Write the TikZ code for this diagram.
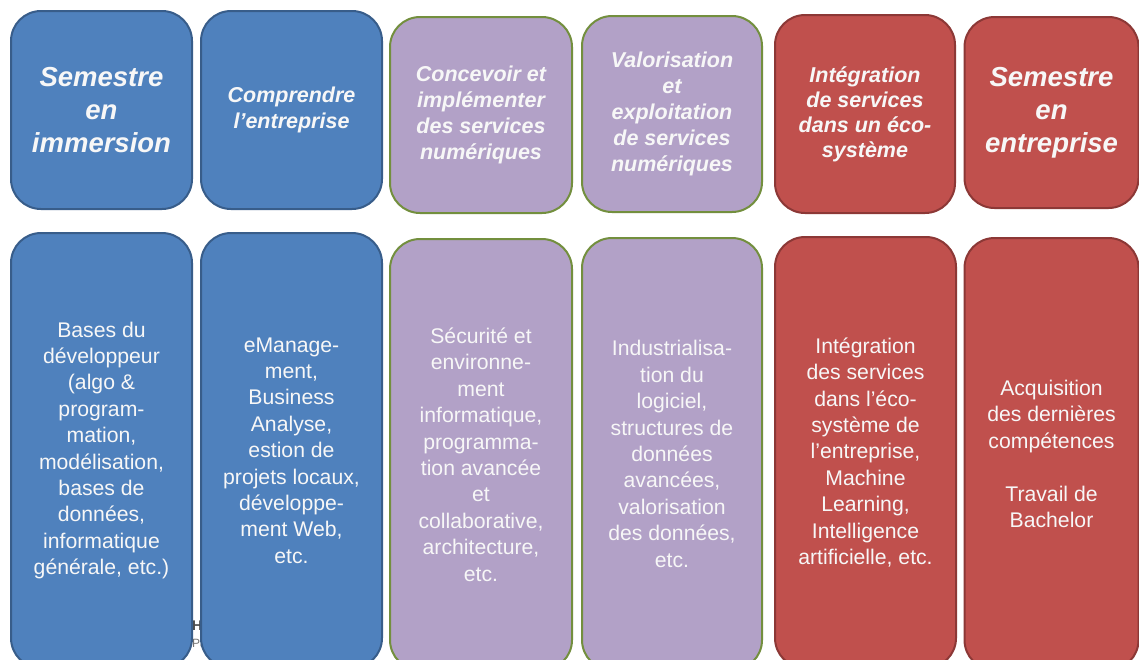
\documentclass[tikz,border=0pt]{standalone}
\usepackage{fontspec}
\setmainfont{Liberation Sans}
\definecolor{bluefill}{HTML}{4F81BD}
\definecolor{blueline}{HTML}{385D8A}
\definecolor{purplefill}{HTML}{B2A1C7}
\definecolor{greenline}{HTML}{738F3E}
\definecolor{redfill}{HTML}{C0504D}
\definecolor{redline}{HTML}{8C3836}
\definecolor{txt}{HTML}{F7F7F7}
\tikzset{
  card/.style={rounded corners=30pt, line width=2pt, inner sep=0pt, outer sep=0pt, align=center, text=txt},
  bluecard/.style={card, fill=bluefill, draw=blueline},
  purplecard/.style={card, fill=purplefill, draw=greenline},
  redcard/.style={card, fill=redfill, draw=redline},
  bighead/.style={font=\bfseries\itshape\fontsize{27.5}{33}\selectfont},
  head/.style={font=\bfseries\itshape\fontsize{21.5}{26}\selectfont},
  bodytext/.style={font=\fontsize{21.2}{26.4}\selectfont},
}
\begin{document}
\begin{tikzpicture}[x=1pt,y=-1pt]
\useasboundingbox (0,0) rectangle (1139,659);
\clip (0,0) rectangle (1139,659);
\fill[white] (0,0) rectangle (1139,659);
% top row
\node[bluecard, bighead, minimum width=181pt, minimum height=198pt] (t1) at (101.5,110) {Semestre\\en\\immersion};
\node[bluecard, head, minimum width=181pt, minimum height=198pt] (t2) at (291.5,110) {Comprendre\\l’entreprise};
\node[purplecard, head, minimum width=182pt, minimum height=196pt] (t3) at (481,115) {Concevoir et\\implémenter\\des services\\numériques};
\node[purplecard, head, minimum width=180pt, minimum height=196pt] (t4) at (672,114) {Valorisation\\et\\exploitation\\de services\\numériques};
\node[redcard, head, font=\bfseries\itshape\fontsize{21.5}{25}\selectfont, minimum width=180pt, minimum height=198pt] (t5) at (865,114) {Intégration\\de services\\dans un éco-\\système};
\node[redcard, bighead, minimum width=174pt, minimum height=191pt] (t6) at (1051.5,112.5) {Semestre\\en\\entreprise};
% background logo fragment
\node[font=\bfseries\fontsize{14}{14}\selectfont, text=black!70, anchor=west, inner sep=0pt] (logoH) at (192,626) {H};
\node[font=\fontsize{12}{12}\selectfont, text=black!55, anchor=west, inner sep=0pt] (logoP) at (192,643) {Pa};
% bottom row
\node[bluecard, bodytext, minimum width=181pt, minimum height=435pt] (b1) at (101.5,450.5) {Bases du\\développeur\\(algo \&\\program-\\mation,\\modélisation,\\bases de\\données,\\informatique\\générale, etc.)};
\node[bluecard, bodytext, minimum width=181pt, minimum height=435pt] (b2) at (291.5,450.5) {eManage-\\ment,\\Business\\Analyse,\\estion de\\projets locaux,\\développe-\\ment Web,\\etc.};
\node[purplecard, bodytext, minimum width=182pt, minimum height=431pt] (b3) at (481,454.5) {Sécurité et\\environne-\\ment\\informatique,\\programma-\\tion avancée\\et\\collaborative,\\architecture,\\etc.};
\node[purplecard, bodytext, minimum width=180pt, minimum height=432pt] (b4) at (672,454) {Industrialisa-\\tion du\\logiciel,\\structures de\\données\\avancées,\\valorisation\\des données,\\etc.};
\node[redcard, bodytext, minimum width=181pt, minimum height=431pt] (b5) at (865.5,452.5) {Intégration\\des services\\dans l’éco-\\système de\\l’entreprise,\\Machine\\Learning,\\Intelligence\\artificielle, etc.};
\node[redcard, bodytext, minimum width=174pt, minimum height=432pt] (b6) at (1051.5,454) {Acquisition\\des dernières\\compétences\\[26.4pt]Travail de\\Bachelor};
\end{tikzpicture}
\end{document}
